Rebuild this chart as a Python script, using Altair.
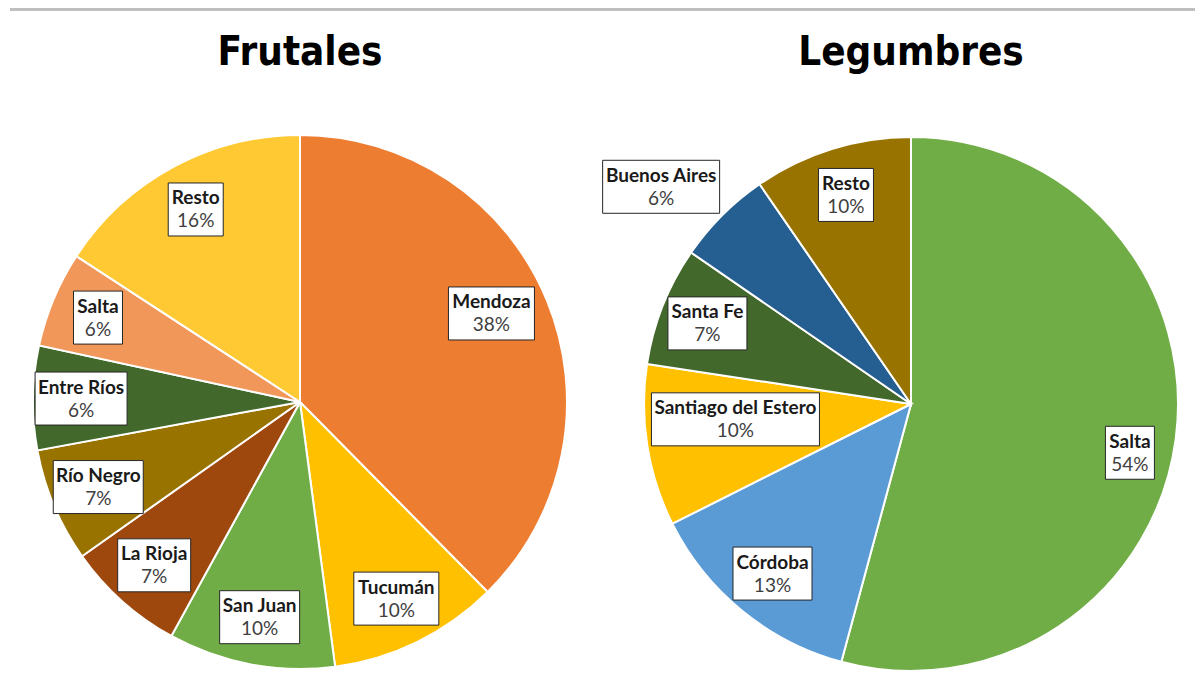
import altair as alt
import pandas as pd

# ---------------- data ----------------
titles = ["Frutales", "Legumbres"]

frut_names = ["Mendoza", "Tucumán", "San Juan", "La Rioja", "Río Negro", "Entre Ríos", "Salta", "Resto"]
frut_values = [37.6, 10.3, 10.1, 7.2, 6.9, 6.3, 5.8, 15.8]
frut_colors = ["#ED7D31", "#FFC000", "#70AD47", "#9E480E", "#997300", "#43682B", "#F1975A", "#FFC933"]

leg_names = ["Salta", "Córdoba", "Santiago del Estero", "Santa Fe", "Buenos Aires", "Resto"]
leg_values = [54.2, 13.4, 9.8, 7.2, 5.8, 9.6]
leg_colors = ["#70AD47", "#5B9BD5", "#FFC000", "#43682B", "#255E91", "#997300"]

# ---------------- layout / style ----------------
W, H = 1187, 681
R = 267
CENTERS = {"Frutales": (292, 394), "Legumbres": (903, 396)}
TITLE_Y = 45
LABEL_R = 0.82
# Excel "best fit" label placement adjustments: (radius fraction, angle offset in degrees)
LABEL_ADJ = {
    ("Frutales", "Mendoza"): (0.79, -2.5),
    ("Legumbres", "Buenos Aires"): (1.24, -4),
    ("Legumbres", "Santiago del Estero"): (0.66, 4),
    ("Legumbres", "Salta"): (0.84, 5),
}
BOX_H = 53
LABEL_FONT = "Lato"
LABEL_SIZE = 19
TITLE_FONT = "Liberation Sans Narrow, DejaVu Sans Condensed, Roboto, sans-serif"

# approximate bold glyph widths (em) for estimating the label box width
CW = {
    "a": .49, "b": .54, "c": .42, "d": .54, "e": .50, "f": .32, "g": .47, "h": .54, "i": .25,
    "j": .27, "k": .48, "l": .25, "m": .81, "n": .54, "o": .54, "p": .54, "q": .54, "r": .36,
    "s": .40, "t": .35, "u": .54, "v": .47, "w": .74, "x": .46, "y": .47, "z": .42, " ": .23,
    "í": .25, "á": .49, "ó": .54, "A": .61, "B": .56, "C": .53, "E": .49, "F": .46, "J": .32,
    "L": .42, "M": .87, "N": .66, "R": .56, "S": .47, "T": .50,
}


def text_width(s, size=20):
    return sum(CW.get(c, .5) for c in s) * size


def pie(title, names, values, colors):
    cx, cy = CENTERS[title]
    df = pd.DataFrame({
        "name": names,
        "value": values,
        "color": colors,
        "order": list(range(len(names))),
    })
    df["rf"] = [LABEL_ADJ.get((title, n), (LABEL_R, 0))[0] for n in names]
    df["da"] = [LABEL_ADJ.get((title, n), (LABEL_R, 0))[1] for n in names]
    df["bw"] = [round(text_width(n) + 8) for n in names]

    base = alt.Chart(df)
    arcs = base.mark_arc(outerRadius=R, stroke="white", strokeWidth=2).encode(
        theta=alt.Theta("value:Q", stack=True),
        order=alt.Order("order:Q"),
        color=alt.Color("color:N", scale=None),
        x=alt.value(cx),
        y=alt.value(cy),
    )

    lab = base.transform_joinaggregate(total="sum(value)").transform_window(
        cum="sum(value)", sort=[alt.SortField("order")], frame=[None, 0]
    ).transform_calculate(
        mid="(datum.cum - datum.value / 2) / datum.total * 2 * PI + datum.da * PI / 180",
        lx=f"{cx} + datum.rf * {R} * sin(datum.mid)",
        ly=f"{cy} - datum.rf * {R} * cos(datum.mid)",
        pct="format(datum.value / datum.total, '.0%')",
        bx1="datum.lx - datum.bw / 2",
        bx2="datum.lx + datum.bw / 2",
        by1=f"datum.ly - {BOX_H / 2}",
        by2=f"datum.ly + {BOX_H / 2}",
    )

    boxes = lab.mark_rect(fill="white", stroke="#262626", strokeWidth=1).encode(
        x=alt.X("bx1:Q", scale=None, axis=None),
        x2="bx2:Q",
        y=alt.Y("by1:Q", scale=None, axis=None),
        y2="by2:Q",
    )
    name_txt = lab.mark_text(
        font=LABEL_FONT, fontWeight="bold", fontSize=LABEL_SIZE, color="#1a1a1a",
        align="center", baseline="middle", dy=-11,
    ).encode(
        x=alt.X("lx:Q", scale=None, axis=None),
        y=alt.Y("ly:Q", scale=None, axis=None),
        text="name:N",
    )
    pct_txt = lab.mark_text(
        font=LABEL_FONT, fontSize=LABEL_SIZE, color="#404040",
        align="center", baseline="middle", dy=12,
    ).encode(
        x=alt.X("lx:Q", scale=None, axis=None),
        y=alt.Y("ly:Q", scale=None, axis=None),
        text="pct:N",
    )
    ttl = alt.Chart(pd.DataFrame({"t": [title]})).mark_text(
        font=TITLE_FONT, fontWeight="bold", fontSize=40, color="#000000",
        align="center", baseline="middle",
    ).encode(x=alt.value(cx), y=alt.value(TITLE_Y), text="t:N")
    return [arcs, boxes, name_txt, pct_txt, ttl]


top_rule = alt.Chart(pd.DataFrame({"a": [0]})).mark_rule(color="#BFBFBF", strokeWidth=3).encode(
    x=alt.value(2), x2=alt.value(1195), y=alt.value(1.5)
)

layers = [top_rule]
layers += pie(titles[0], frut_names, frut_values, frut_colors)
layers += pie(titles[1], leg_names, leg_values, leg_colors)

chart = alt.layer(*layers).resolve_scale(theta="independent").properties(
    width=W, height=H, autosize="none", padding=0
).configure_view(stroke=None)

chart.save("out.html", embed_options={"renderer": "svg", "actions": False})
